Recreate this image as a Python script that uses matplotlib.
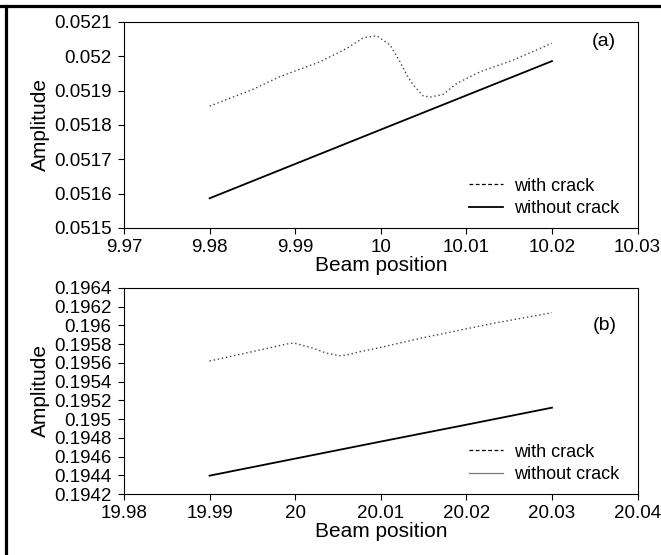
import numpy as np
import matplotlib
matplotlib.use("Agg")
import matplotlib.pyplot as plt
from matplotlib.lines import Line2D
from matplotlib.ticker import FuncFormatter, MultipleLocator

plt.rcParams["font.family"] = ["Liberation Sans", "DejaVu Sans"]

########## DATA ##########
## panel (a)
pos_a_crack = [9.98, 9.985, 9.98823, 9.9929, 9.99602, 9.99797, 9.99953, 10.00108,
               10.00225, 10.00303, 10.00377, 10.00494, 10.00576, 10.00728,
               10.00888, 10.0116, 10.01546, 10.02]
amp_a_crack = [0.051855, 0.051903, 0.051941, 0.051984, 0.052023, 0.052054, 0.05206,
               0.052033, 0.051984, 0.051946, 0.051917, 0.051885, 0.051881,
               0.051889, 0.051921, 0.051955, 0.051989, 0.052038]
pos_a_nocrack = [9.98, 9.99, 10.0, 10.01, 10.02]
amp_a_nocrack = [0.0515865, 0.0516865, 0.0517865, 0.0518862, 0.051986]

## panel (b)
pos_b_crack = [19.99, 19.99589, 19.9994, 19.99998, 20.00212, 20.00369, 20.00524,
               20.00602, 20.00757, 20.00953, 20.015, 20.023, 20.03]
amp_b_crack = [0.19562, 0.195738, 0.195809, 0.195809, 0.195756, 0.195703, 0.195677,
               0.195684, 0.19572, 0.195756, 0.19587, 0.19602, 0.196136]
pos_b_nocrack = [19.99, 20.0, 20.01, 20.02, 20.03]
amp_b_nocrack = [0.194396, 0.194578, 0.19476, 0.19494, 0.195122]

panels = [
    dict(tag="(a)", xc=pos_a_crack, yc=amp_a_crack, xn=pos_a_nocrack, yn=amp_a_nocrack,
         xlim=(9.97, 10.03), ylim=(0.0515, 0.0521), ystep=0.0001,
         rect=[0.1876, 0.5892, 0.7769, 0.3712], tagpos=(0.935, 0.905),
         leg_color="black", leg_lw=1.3),
    dict(tag="(b)", xc=pos_b_crack, yc=amp_b_crack, xn=pos_b_nocrack, yn=amp_b_nocrack,
         xlim=(19.98, 20.04), ylim=(0.1942, 0.1964), ystep=0.0002,
         rect=[0.1876, 0.1099, 0.7769, 0.3712], tagpos=(0.937, 0.82),
         leg_color="#777777", leg_lw=0.9),
]

fmt = FuncFormatter(lambda v, p: "%g" % round(v, 7))

fig = plt.figure(figsize=(6.61, 5.55), dpi=100)

for pnl in panels:
    ax = fig.add_axes(pnl["rect"])
    ax.plot(pnl["xc"], pnl["yc"], color="#444444", lw=1.0, linestyle=(0, (1, 2)))
    ax.plot(pnl["xn"], pnl["yn"], color="black", lw=1.3)
    ax.set_xlim(*pnl["xlim"])
    ax.set_ylim(*pnl["ylim"])
    ax.xaxis.set_major_locator(MultipleLocator(0.01))
    ax.yaxis.set_major_locator(MultipleLocator(pnl["ystep"]))
    ax.xaxis.set_major_formatter(fmt)
    ax.yaxis.set_major_formatter(fmt)
    ax.tick_params(direction="out", length=4, width=0.8, labelsize=13.5,
                   top=False, right=False)
    ax.tick_params(axis="x", pad=4)
    ax.tick_params(axis="y", pad=5)
    for sp in ax.spines.values():
        sp.set_linewidth(0.8)
    ax.set_xlabel("Beam position", fontsize=15, labelpad=0)
    ax.set_ylabel("Amplitude", fontsize=15, labelpad=3)
    ax.text(*pnl["tagpos"], pnl["tag"], transform=ax.transAxes, fontsize=14,
            ha="center", va="center")

    ## legend drawn dashed like the original, not dotted like the curve
    handles = [
        Line2D([], [], color="black", lw=0.9, linestyle=(0, (3, 2))),
        Line2D([], [], color=pnl["leg_color"], lw=pnl["leg_lw"]),
    ]
    ax.legend(handles, ["with crack", "without crack"], loc="lower right",
              bbox_to_anchor=(0.985, 0.0), borderaxespad=0.2, frameon=False,
              fontsize=13, handlelength=1.9, handletextpad=0.6, labelspacing=0.3)

## page frame (top and left edges only)
fig.add_artist(Line2D([0.0, 1.0], [0.990, 0.990], color="black", lw=2.3,
                      transform=fig.transFigure))
fig.add_artist(Line2D([0.0098, 0.0098], [0.003, 0.990], color="black", lw=2.3,
                      transform=fig.transFigure))

fig.savefig("out.png", dpi=100)
